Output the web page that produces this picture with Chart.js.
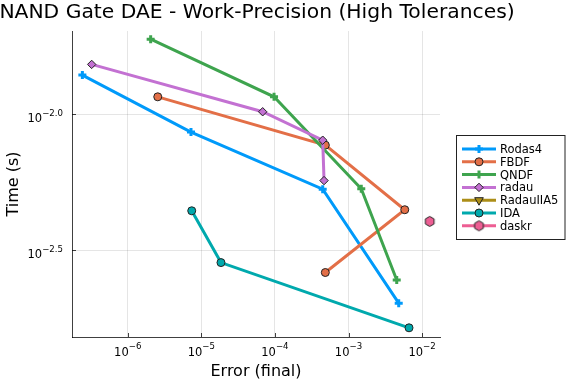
<!DOCTYPE html>
<html>
<head>
<meta charset="utf-8">
<script src="https://cdn.jsdelivr.net/npm/chart.js"></script>
<style>
  body { margin: 0; background: #fff; }
  canvas { display: block; }
</style>
</head>
<body>
<canvas id="myChart" width="576" height="384"></canvas>
<script>
const ctx = document.getElementById("myChart").getContext("2d");

// values (error, time)
const names = ["Rodas4", "FBDF", "QNDF", "radau", "RadauIIA5", "IDA", "daskr"];
const colors = ["#009AFA", "#E36F47", "#3EA44E", "#C371D2", "#AC8E18", "#00A9AD", "#ED5E93"];

const rodas4Err = [2.42e-7, 7.24e-6, 4.46e-4, 4.81e-3];
const rodas4Time = [0.01396, 0.00861, 0.00531, 0.00202];
const fbdfErr = [2.56e-6, 4.84e-4, 5.81e-3, 4.84e-4];
const fbdfTime = [0.01161, 0.00771, 0.00446, 0.00262];
const qndfErr = [2.05e-6, 9.73e-5, 1.49e-3, 4.52e-3];
const qndfTime = [0.01892, 0.01161, 0.00533, 0.00246];
const radauErr = [3.24e-7, 6.82e-5, 4.46e-4, 4.65e-4];
const radauTime = [0.01528, 0.01023, 0.00804, 0.00571];
const radau5Err = [];
const radau5Time = [];
const idaErr = [7.41e-6, 1.85e-5, 6.64e-3];
const idaTime = [0.00442, 0.00285, 0.00164];
const daskrErr = [0.01268];
const daskrTime = [0.00404];

const xTicks = [1e-6, 1e-5, 1e-4, 1e-3, 1e-2];
const xTickExp = ["−6", "−5", "−4", "−3", "−2"];
const yTicks = [0.01, 0.0031623];
const yTickExp = ["−2.0", "−2.5"];

const errs = [rodas4Err, fbdfErr, qndfErr, radauErr, radau5Err, idaErr, daskrErr];
const times = [rodas4Time, fbdfTime, qndfTime, radauTime, radau5Time, idaTime, daskrTime];

// hexagon marker for daskr
const hex = document.createElement("canvas");
hex.width = 13;
hex.height = 13;
{
  const h = hex.getContext("2d");
  h.beginPath();
  for (let i = 0; i < 6; i++) {
    const a = Math.PI / 6 + (i * Math.PI) / 3;
    const px = 6.5 + 5 * Math.cos(a);
    const py = 6.5 + 5 * Math.sin(a);
    if (i == 0) h.moveTo(px, py);
    else h.lineTo(px, py);
  }
  h.closePath();
  h.fillStyle = colors[6];
  h.fill();
  h.strokeStyle = "#222";
  h.lineWidth = 1;
  h.stroke();
}

const markers = [
  { pointStyle: "cross", radius: 4, borderWidth: 3, rotation: 0 },
  { pointStyle: "circle", radius: 4, borderWidth: 1, rotation: 0 },
  { pointStyle: "cross", radius: 4, borderWidth: 3, rotation: 0 },
  { pointStyle: "rectRot", radius: 4.2, borderWidth: 1, rotation: 0 },
  { pointStyle: "triangle", radius: 5, borderWidth: 1, rotation: 180 },
  { pointStyle: "circle", radius: 4, borderWidth: 1, rotation: 0 },
  { pointStyle: hex, radius: 5, borderWidth: 0, rotation: 0 },
];

const datasets = names.map((name, i) => {
  const m = markers[i];
  const cross = m.pointStyle == "cross";
  return {
    label: name,
    data: errs[i].map((x, j) => ({ x: x, y: times[i][j] })),
    showLine: true,
    borderColor: colors[i],
    backgroundColor: colors[i],
    borderWidth: 3,
    pointStyle: m.pointStyle,
    pointRadius: m.radius,
    pointRotation: m.rotation,
    pointBackgroundColor: colors[i],
    pointBorderColor: cross ? colors[i] : "#222",
    pointBorderWidth: m.borderWidth,
    order: -i,
  };
});

function drawPow(c, x, y, exp, align, dy) {
  c.font = '11.5px "DejaVu Sans"';
  const wb = c.measureText("10").width;
  c.font = '8.6px "DejaVu Sans"';
  const we = c.measureText(exp).width;
  const total = wb + we;
  let start = align == "right" ? x - total : x - total / 2;
  c.textAlign = "left";
  c.font = '11.5px "DejaVu Sans"';
  c.fillText("10", start, y);
  c.font = '8.6px "DejaVu Sans"';
  c.fillText(exp, start + wb, y - dy);
}

const decor = {
  id: "decor",
  afterDraw(chart) {
    const c = chart.ctx;
    const a = chart.chartArea;
    const xs = chart.scales.x;
    const ys = chart.scales.y;
    c.save();
    c.fillStyle = "#000";
    c.textBaseline = "alphabetic";

    // title
    c.font = '20.3px "DejaVu Sans"';
    c.textAlign = "center";
    c.fillText("NAND Gate DAE - Work-Precision (High Tolerances)", 257, 17.5);

    // inner tick marks
    c.strokeStyle = "rgba(0,0,0,0.75)";
    c.lineWidth = 1;
    xTicks.forEach((v) => {
      const px = Math.round(xs.getPixelForValue(v)) + 0.5;
      c.beginPath();
      c.moveTo(px, a.bottom);
      c.lineTo(px, a.bottom - 4);
      c.stroke();
    });
    yTicks.forEach((v) => {
      const py = Math.round(ys.getPixelForValue(v)) + 0.5;
      c.beginPath();
      c.moveTo(a.left, py);
      c.lineTo(a.left + 4, py);
      c.stroke();
    });

    // tick labels
    xTicks.forEach((v, i) => {
      drawPow(c, xs.getPixelForValue(v), a.bottom + 18.5, xTickExp[i], "center", 6.5);
    });
    yTicks.forEach((v, i) => {
      drawPow(c, a.left - 9, ys.getPixelForValue(v) + 8, yTickExp[i], "right", 6.5);
    });

    // axis titles
    c.font = '16px "DejaVu Sans"';
    c.textAlign = "center";
    c.fillText("Error (final)", (a.left + a.right) / 2, 376);
    c.save();
    c.translate(17.5, (a.top + a.bottom) / 2);
    c.rotate(-Math.PI / 2);
    c.fillText("Time (s)", 0, 0);
    c.restore();

    // legend
    const lx = 456.5, ly = 135.5, lw = 108.5, lh = 104;
    c.fillStyle = "#fff";
    c.fillRect(lx, ly, lw, lh);
    c.strokeStyle = "#222";
    c.lineWidth = 1;
    c.strokeRect(lx, ly, lw, lh);
    names.forEach((name, i) => {
      const ry = 149 + i * 12.8;
      c.strokeStyle = colors[i];
      c.lineWidth = 3;
      c.beginPath();
      c.moveTo(462, ry);
      c.lineTo(496, ry);
      c.stroke();
      const m = markers[i];
      const cross = m.pointStyle == "cross";
      c.fillStyle = colors[i];
      c.strokeStyle = cross ? colors[i] : "#222";
      c.lineWidth = m.borderWidth;
      Chart.helpers.drawPoint(c, m, 479, ry);
      c.fillStyle = "#000";
      c.font = '11.5px "DejaVu Sans"';
      c.textAlign = "left";
      c.fillText(name, 500, ry + 4);
    });
    c.restore();
  },
};

const gridOpts = { color: "rgba(0,0,0,0.1)", lineWidth: 1, drawTicks: false };
const borderOpts = { display: true, color: "rgba(0,0,0,0.75)", width: 1 };

const myChart = new Chart(ctx, {
  type: "scatter",
  data: { datasets: datasets },
  options: {
    responsive: false,
    animation: false,
    layout: { padding: { left: 0, top: 31, right: 136, bottom: 0 } },
    plugins: { legend: { display: false }, title: { display: false }, tooltip: { enabled: false } },
    scales: {
      x: {
        type: "logarithmic",
        min: 1.75e-7,
        max: 1.75e-2,
        grid: gridOpts,
        border: borderOpts,
        ticks: { display: false },
        afterBuildTicks: (scale) => {
          scale.ticks = xTicks.map((v) => ({ value: v }));
        },
        afterFit: (scale) => {
          scale.height = 47;
        },
      },
      y: {
        type: "logarithmic",
        min: 1.517e-3,
        max: 2.028e-2,
        grid: gridOpts,
        border: borderOpts,
        ticks: { display: false },
        afterBuildTicks: (scale) => {
          scale.ticks = yTicks.map((v) => ({ value: v }));
        },
        afterFit: (scale) => {
          scale.width = 72;
        },
      },
    },
  },
  plugins: [decor],
});
</script>
</body>
</html>
